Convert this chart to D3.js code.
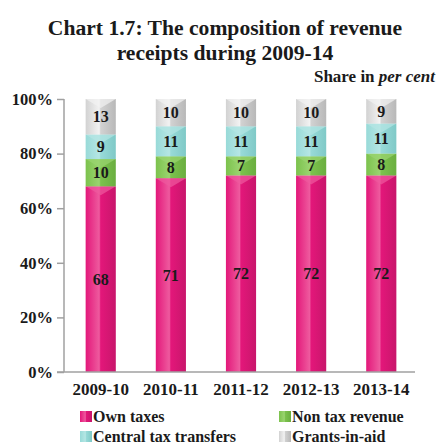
<!DOCTYPE html>
<html><head><meta charset="utf-8">
<script src="https://cdn.jsdelivr.net/npm/d3@7"></script>
<style>body{margin:0;background:#fff}</style>
</head><body>
<svg id="c" width="440" height="445"></svg>
<script>
const years = ["2009-10","2010-11","2011-12","2012-13","2013-14"];
const ownTaxes = [68,71,72,72,72];
const nonTax = [10,8,7,7,8];
const centralTransfers = [9,11,11,11,11];
const grants = [13,10,10,10,9];
const seriesNames = ["Own taxes","Non tax revenue","Central tax transfers","Grants-in-aid"];
const yTicks = [0,20,40,60,80,100];
const colors = ["#E3177A","#7CC24D","#98DAD8","#D2D2D2"];
const lightColors = ["#EE5A9E","#9AD470","#B5E6E4","#F2F2F2"];
const darkColors = ["#C8166B","#6AAE40","#7FC9C7","#B8B8B8"];

const svg = d3.select("#c");
const font = "'Liberation Serif','Times New Roman',serif";

const rows = years.map((y,i)=>({year:y, "Own taxes":ownTaxes[i], "Non tax revenue":nonTax[i], "Central tax transfers":centralTransfers[i], "Grants-in-aid":grants[i]}));
const stack = d3.stack().keys(seriesNames)(rows);

const x = d3.scaleBand().domain(years).range([66,416]).paddingInner(0.57).paddingOuter(0.28);
const y = d3.scaleLinear().domain([0,100]).range([372,99]);

// gradients
const defs = svg.append("defs");
seriesNames.forEach((s,i)=>{
  const g = defs.append("linearGradient").attr("id","g"+i).attr("x1","0").attr("x2","1").attr("y1","0").attr("y2","0");
  g.append("stop").attr("offset","0").attr("stop-color",colors[i]);
  g.append("stop").attr("offset","0.45").attr("stop-color",lightColors[i]).attr("stop-opacity",1);
  g.append("stop").attr("offset","0.5").attr("stop-color",colors[i]);
  g.append("stop").attr("offset","1").attr("stop-color",darkColors[i]);
});

// title
svg.append("text").attr("x",225).attr("y",35).attr("text-anchor","middle")
  .style("font-family",font).style("font-weight","bold").style("font-size","21.6px").attr("fill","#1a1a1a")
  .text("Chart 1.7: The composition of revenue");
svg.append("text").attr("x",225).attr("y",60).attr("text-anchor","middle")
  .style("font-family",font).style("font-weight","bold").style("font-size","21.6px").attr("fill","#1a1a1a")
  .text("receipts during 2009-14");
const sub = svg.append("text").attr("x",435).attr("y",82).attr("text-anchor","end")
  .style("font-family",font).style("font-weight","bold").style("font-size","17px").attr("fill","#1a1a1a");
sub.append("tspan").text("Share in ");
sub.append("tspan").style("font-style","italic").text("per cent");

// bars
const bw = x.bandwidth();
stack.forEach((layer,i)=>{
  const g = svg.append("g");
  layer.forEach(d=>{
    const x0 = x(d.data.year), y0 = y(d[1]), y1 = y(d[0]);
    g.append("rect").attr("x",x0).attr("y",y0).attr("width",bw).attr("height",y1-y0).attr("fill","url(#g"+i+")");
    const h = Math.min(9,(y1-y0)/2);
    g.append("path").attr("d",`M${x0},${y0}L${x0+bw},${y0}L${x0+bw/2},${y0+h}Z`)
      .attr("fill",lightColors[i]).attr("opacity",0.7);
    g.append("text").attr("x",x0+bw/2).attr("y",(y0+y1)/2+5.5).attr("text-anchor","middle")
      .style("font-family",font).style("font-weight","bold").style("font-size","16px").attr("fill","#1a1a1a")
      .text(d[1]-d[0]);
  });
});

// y axis
const ya = svg.append("g").attr("transform","translate(64,0)")
  .call(d3.axisLeft(y).tickValues(yTicks).tickSize(7).tickFormat(d=>d+"%"));
ya.select(".domain").attr("stroke","#a0a0a0").attr("stroke-width",1.5).attr("d","M0,99V372");
ya.selectAll(".tick line").attr("stroke","#a0a0a0").attr("stroke-width",1.5);
ya.selectAll(".tick text").style("font-family",font).style("font-weight","bold").style("font-size","16.5px").attr("fill","#1a1a1a").attr("x",-11);

// x axis
const xa = svg.append("g").attr("transform","translate(0,372)")
  .call(d3.axisBottom(x).tickSize(0));
xa.select(".domain").attr("stroke","#a0a0a0").attr("stroke-width",1.5).attr("d","M57,0H415");
xa.selectAll(".tick text").style("font-family",font).style("font-weight","bold").style("font-size","17px").attr("fill","#1a1a1a").attr("dy","0").attr("y",23);

// legend
const legPos = [[80,422],[279,422],[80,442],[279,442]];
seriesNames.forEach((s,i)=>{
  const [lx,ly] = legPos[i];
  svg.append("rect").attr("x",lx).attr("y",ly-11).attr("width",12).attr("height",11).attr("fill","url(#g"+i+")");
  svg.append("text").attr("x",lx+13).attr("y",ly).style("font-family",font).style("font-weight","bold").style("font-size","16px").attr("fill","#1a1a1a").text(s);
});
</script>
</body></html>
